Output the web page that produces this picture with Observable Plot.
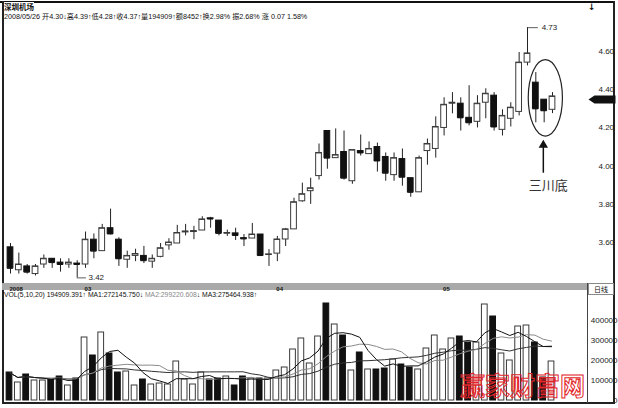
<!DOCTYPE html>
<html><head><meta charset="utf-8">
<script src="https://cdn.jsdelivr.net/npm/d3@7"></script>
<script src="https://cdn.jsdelivr.net/npm/@observablehq/plot@0.6"></script>
<style>
body{margin:0;background:#fff;}
#wrap{position:relative;width:618px;height:408px;overflow:hidden;background:#fff;font-family:"Liberation Sans","Noto Sans CJK SC",sans-serif;color:#111;}
.abs{position:absolute;white-space:nowrap;}
svg{position:absolute;left:0;}
</style></head>
<body><div id="wrap">
<div class="abs" style="left:0;top:1px;width:615px;height:2px;background:#111"></div>
<div class="abs" style="left:2px;top:1px;width:1.5px;height:403px;background:#222"></div>
<div class="abs" style="left:613px;top:1px;width:1.5px;height:403px;background:#222"></div>
<div class="abs" style="left:2px;top:402px;width:613px;height:1.5px;background:#222"></div>
<div class="abs" style="left:2px;top:283px;width:585px;height:7px;background:#a9a9a9"></div>
<div class="abs" style="left:587px;top:283px;width:1px;height:120px;background:#444"></div>
<div class="abs" style="left:588px;top:283px;width:24px;height:10px;border:1px solid #888;background:#fff;font:7px 'Noto Sans CJK SC';text-align:center;line-height:10px">日线</div>
<div class="abs" style="left:588px;top:2px;font:bold 9px 'DejaVu Sans'">↓</div>
<div class="abs" style="left:4px;top:2px;font:bold 7.5px 'Noto Sans CJK SC';line-height:9px;background:#fff">深圳机场</div>
<div class="abs" style="left:4px;top:12px;font:7.2px 'Liberation Sans','Noto Sans CJK SC';line-height:9px">2008/05/26 开4.30↓高4.39↑低4.28↑收4.37↑量194909↑额8452↑换2.98% 振2.68% 涨 0.07 1.58%</div>
<div class="abs" style="left:4px;top:291px;font:6.8px 'Liberation Sans';line-height:8px">VOL(5,10,20) 194909.391↑ MA1:272145.750↓ <span style="color:#888">MA2:299220.608</span>↓ MA3:275464.938↑</div>
<div id="price"></div>
<div id="vol"></div>
<div class="abs" style="left:460px;top:369px;font:700 25px 'Noto Sans CJK SC';line-height:30px;color:rgba(255,255,255,0);-webkit-text-stroke:1px #e3262b">赢家财富网</div>
</div>
<script>
const opens  = [3.58,3.46,3.48,3.44,3.49,3.52,3.50,3.49,3.495,3.49,3.62,3.56,3.68,3.62,3.515,3.535,3.535,3.505,3.53,3.59,3.60,3.658,3.66,3.668,3.732,3.72,3.652,3.653,3.628,3.626,3.647,3.54,3.547,3.621,3.674,3.821,3.874,3.953,4.189,4.047,4.079,3.926,4.084,4.068,4.105,4.053,3.958,4.042,3.942,3.868,4.084,4.095,4.205,4.332,4.332,4.258,4.237,4.337,4.374,4.195,4.253,4.289,4.547,4.442,4.353,4.30];
const highs  = [3.60,3.55,3.49,3.49,3.54,3.52,3.52,3.52,3.51,3.66,3.65,3.70,3.78,3.63,3.56,3.57,3.585,3.54,3.60,3.625,3.695,3.70,3.69,3.74,3.737,3.72,3.67,3.68,3.647,3.705,3.647,3.568,3.637,3.679,3.837,3.916,3.942,4.121,4.189,4.20,4.189,4.089,4.168,4.132,4.126,4.074,4.074,4.095,3.942,4.058,4.147,4.263,4.363,4.39,4.363,4.426,4.374,4.41,4.39,4.30,4.337,4.60,4.73,4.495,4.353,4.39];
const lows   = [3.44,3.44,3.44,3.43,3.47,3.47,3.45,3.47,3.42,3.47,3.52,3.56,3.645,3.48,3.47,3.505,3.495,3.47,3.525,3.565,3.60,3.64,3.62,3.668,3.68,3.64,3.637,3.616,3.584,3.626,3.532,3.48,3.505,3.584,3.674,3.816,3.805,3.932,3.989,4.047,3.932,3.91,4.058,4.068,3.974,3.926,3.926,3.90,3.842,3.868,4.01,4.047,4.163,4.279,4.189,4.216,4.205,4.253,4.189,4.163,4.21,4.268,4.53,4.232,4.232,4.28];
const closes = [3.47,3.49,3.45,3.48,3.52,3.50,3.49,3.50,3.49,3.62,3.56,3.68,3.65,3.52,3.535,3.545,3.51,3.52,3.575,3.605,3.655,3.663,3.665,3.726,3.728,3.653,3.655,3.642,3.624,3.647,3.537,3.543,3.621,3.674,3.816,3.858,3.889,4.074,4.047,4.063,3.942,4.089,4.074,4.095,4.032,3.968,4.047,3.947,3.868,4.047,4.121,4.21,4.326,4.337,4.258,4.232,4.332,4.384,4.21,4.268,4.311,4.547,4.595,4.305,4.295,4.37];
const volumes = [140000,90000,130000,100000,100000,105000,120000,75000,110000,315000,225000,340000,235000,140000,145000,75000,105000,80000,85000,80000,195000,105000,80000,140000,105000,110000,120000,75000,120000,110000,110000,110000,150000,165000,255000,310000,185000,320000,485000,380000,325000,150000,240000,155000,155000,160000,205000,180000,165000,155000,260000,325000,255000,310000,320000,290000,290000,480000,420000,235000,200000,370000,375000,290000,115000,195000];
const priceTicks = [3.6,3.8,4.0,4.2,4.4,4.6];
const volumeTicks = [0,100000,200000,300000,400000];
const monthLabels = ["2008","03","04","05"];
const monthStarts = [0,9,32,52];
const highLabel = {i:62, value:4.73, text:"4.73"};
const lowLabel = {i:8, value:3.42, text:"3.42"};
const patternName = "三川底";

const candles = opens.map((o,i)=>({i, open:o, high:highs[i], low:lows[i], close:closes[i], vol:volumes[i], up: closes[i] >= o}));
const months = monthLabels.map((label,k)=>({i:monthStarts[k], label}));
const font = "Liberation Sans, Noto Sans CJK SC, sans-serif";
const bodyFill = d => d.up ? "#fff" : "#111";
const bodyStroke = d => d.up ? "#3a3a3a" : "#111";

const ellipse = {cx:64.2, cy:4.36, rx:2.05, ry:0.2};
const ellipseMark = (index, scales) => {
  const cx = scales.x(ellipse.cx), cy = scales.y(ellipse.cy);
  const rx = Math.abs(scales.x(ellipse.cx + ellipse.rx) - cx);
  const ry = Math.abs(scales.y(ellipse.cy + ellipse.ry) - cy);
  return d3.create("svg:ellipse").attr("cx", cx).attr("cy", cy).attr("rx", rx).attr("ry", ry)
    .attr("fill", "none").attr("stroke", "#222").attr("stroke-width", 1.2).node();
};
const lastMarker = {draw(ctx){ctx.moveTo(0,3);ctx.lineTo(6,-1);ctx.lineTo(27,-1);ctx.lineTo(27,7);ctx.lineTo(6,7);ctx.closePath();}};

const price = Plot.plot({
  width:618, height:285, marginTop:27, marginBottom:0, marginLeft:2, marginRight:30,
  x:{type:"linear", domain:[0,65], range:[10,552], axis:null},
  y:{type:"linear", domain:[3.6,4.6], range:[243,52], axis:null},
  style:{background:"transparent", fontFamily:font, fontSize:"8px", overflow:"visible"},
  marks:[
    Plot.ruleX(candles, {x:"i", y1:"low", y2:"high", stroke:"#222", strokeWidth:1}),
    Plot.rect(candles, {x1:d=>d.i-0.5, x2:d=>d.i+0.5, y1:"open", y2:"close", insetLeft:1.3, insetRight:1.3, fill:bodyFill, stroke:bodyStroke}),
    Plot.ruleY(candles, {y:"close", x1:d=>d.i-0.5, x2:d=>d.i+0.5, insetLeft:1.3, insetRight:1.3, stroke:bodyStroke}),
    Plot.ruleY([highLabel], {y:"value", x1:"i", x2:d=>d.i+1.3, stroke:"#333", strokeWidth:0.8}),
    Plot.text([highLabel], {x:d=>d.i+1.7, y:"value", text:"text", textAnchor:"start", fontSize:8, fill:"#222"}),
    Plot.ruleY([lowLabel], {y:"value", x1:"i", x2:d=>d.i+1.1, stroke:"#333", strokeWidth:0.8}),
    Plot.text([lowLabel], {x:d=>d.i+1.35, y:"value", text:"text", textAnchor:"start", fontSize:8, fill:"#222"}),
    ellipseMark,
    Plot.ruleX([63.9], {x:d=>d, y1:3.968, y2:4.115, stroke:"#111", strokeWidth:1.5}),
    Plot.dot([63.9], {x:d=>d, y:4.115, symbol:"triangle2", r:4.5, fill:"#111", stroke:"none"}),
    Plot.text([patternName], {x:64.5, y:3.90, text:d=>d, fontSize:13, fontFamily:"Noto Sans CJK SC", fill:"#333"}),
    Plot.dot([closes[closes.length-1]], {y:d=>d, frameAnchor:"right", symbol:lastMarker, r:1, fill:"#111", stroke:"none"}),
    Plot.text(priceTicks, {y:d=>d, text:d=>d.toFixed(2), frameAnchor:"right", textAnchor:"start", dx:10, dy:-1, fontSize:8, fill:"#222"})
  ]
});
price.style.top = "0px";
document.getElementById("price").appendChild(price);

const vol = Plot.plot({
  width:618, height:125, marginTop:0, marginBottom:0, marginLeft:2, marginRight:31,
  x:{type:"linear", domain:[0,65], range:[9,551], axis:null},
  y:{type:"linear", domain:[0,100000], range:[117,97], axis:null},
  style:{background:"transparent", fontFamily:font, fontSize:"8px", overflow:"visible"},
  marks:[
    Plot.rect(candles, {x1:d=>d.i-0.5, x2:d=>d.i+0.5, y1:0, y2:"vol", insetLeft:1.3, insetRight:1.3, fill:bodyFill, stroke:bodyStroke}),
    Plot.lineY(candles, Plot.windowY({k:20, anchor:"end"}, {x:"i", y:"vol", stroke:"#333", strokeWidth:1})),
    Plot.lineY(candles, Plot.windowY({k:10, anchor:"end"}, {x:"i", y:"vol", stroke:"#8a8a8a", strokeWidth:1})),
    Plot.lineY(candles, Plot.windowY({k:5, anchor:"end"}, {x:"i", y:"vol", stroke:"#111", strokeWidth:1})),
    Plot.text(volumeTicks, {y:d=>d, text:d=>String(d), frameAnchor:"right", textAnchor:"end", dx:30, fontSize:8, fill:"#222"}),
    Plot.text(months, {x:"i", text:"label", frameAnchor:"top", dy:3.2, textAnchor:"start", fontWeight:"bold", fontSize:6, fill:"#111"})
  ]
});
vol.style.top = "283px";
document.getElementById("vol").appendChild(vol);
</script>
</body></html>
